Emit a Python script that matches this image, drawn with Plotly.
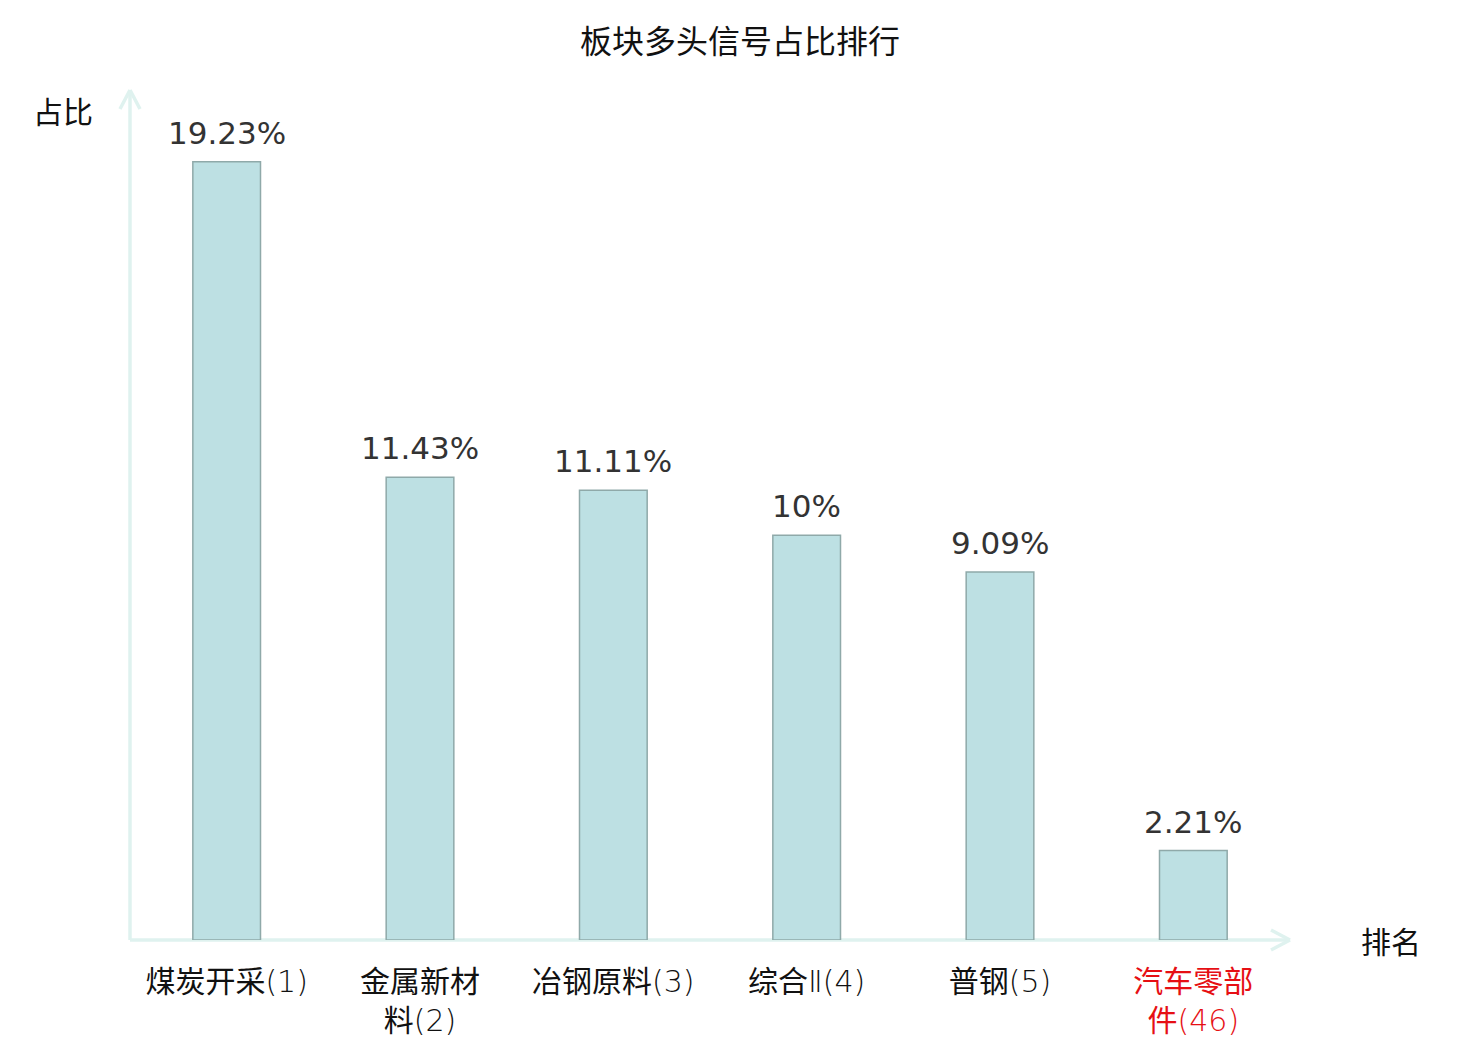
import plotly.graph_objects as go

# sector names, their rank, and share of bullish signals in %
sectors = ["煤炭开采", "金属新材<br>料", "冶钢原料", "综合Ⅱ", "普钢", "汽车零部<br>件"]
ranks = [1, 2, 3, 4, 5, 46]
shares = [19.23, 11.43, 11.11, 10, 9.09, 2.21]
share_labels = ["19.23%", "11.43%", "11.11%", "10%", "9.09%", "2.21%"]
highlight = [False, False, False, False, False, True]

W, H = 1480, 1040
# the page adds an 8px body margin, so shift everything up/left by that much
L, T = 122, 82
PW, PH = 1160, 850
R, B = W - L - PW, H - T - PH

AXIS_COLOR = "#dff2ef"
CJK = "Noto Sans CJK SC"
TICK_FONT = "DejaVu Sans, Noto Sans CJK SC"
LIGHT = "font-family:'DejaVu Sans';font-weight:200"


def light(s):
    return f"<span style=\"{LIGHT}\">{s}</span>"


tick_text = []
for name, rank, hl in zip(sectors, ranks, highlight):
    # latin bits (roman numeral, rank) are drawn in a thin face like the original
    label = name.replace("Ⅱ", light("Ⅱ")) + light(f"({rank})")
    if hl:
        label = f"<span style='color:#e60f14'>{label}</span>"
    tick_text.append(label)
xs = list(range(len(sectors)))

fig = go.Figure(go.Bar(
    x=xs,
    y=shares,
    width=0.35,
    marker=dict(color="#bde0e3", line=dict(color="#8fa9a9", width=1.5)),
    hoverinfo="skip",
))


def px_x(p):
    return p / PW


def px_y(p):
    return p / PH


arrow = dict(type="line", xref="paper", yref="paper",
             line=dict(color=AXIS_COLOR, width=3.5), layer="below")
shapes = [
    # y axis with chevron head
    dict(arrow, x0=0, y0=0, x1=0, y1=1),
    dict(arrow, x0=-px_x(10), y0=1 - px_y(19), x1=0, y1=1),
    dict(arrow, x0=px_x(10), y0=1 - px_y(19), x1=0, y1=1),
    # x axis with chevron head
    dict(arrow, x0=0, y0=0, x1=1, y1=0),
    dict(arrow, x0=1 - px_x(19), y0=px_y(10), x1=1, y1=0),
    dict(arrow, x0=1 - px_x(19), y0=-px_y(10), x1=1, y1=0),
]

# value labels above each bar
annotations = [
    dict(text=lab, x=x, y=v, xref="x", yref="y", showarrow=False,
         xanchor="center", yanchor="bottom", yshift=9,
         font=dict(family="DejaVu Sans", size=31, color="#333333"))
    for x, v, lab in zip(xs, shares, share_labels)
]

annotations += [
    dict(text="占比", xref="paper", yref="paper", x=px_x(63 - 130), y=1 - px_y(110 - 90),
         xanchor="center", yanchor="middle", showarrow=False,
         font=dict(family=CJK, size=30, color="#111111")),
    dict(text="排名", xref="paper", yref="paper", x=px_x(1391 - 130), y=0,
         xanchor="center", yanchor="middle", showarrow=False,
         font=dict(family=CJK, size=30, color="#111111")),
]

fig.update_layout(
    width=W, height=H,
    margin=dict(l=L, r=R, t=T, b=B),
    paper_bgcolor="white",
    plot_bgcolor="white",
    showlegend=False,
    title=dict(text="板块多头信号占比排行", x=(740 - 8) / W, xref="container",
               xanchor="center", y=1 - 34 / H, yanchor="middle",
               font=dict(family=CJK, size=32, color="#111111")),
    xaxis=dict(
        range=[-0.5, 5.5],
        tickmode="array",
        tickvals=xs,
        ticktext=tick_text,
        showgrid=False,
        zeroline=False,
        showline=False,
        ticks="",
        ticklabelstandoff=21,
        automargin=False,
        tickfont=dict(family=TICK_FONT, size=30, color="#111111"),
        fixedrange=True,
    ),
    yaxis=dict(
        range=[0, 21],
        showgrid=False,
        zeroline=False,
        showline=False,
        showticklabels=False,
        automargin=False,
        fixedrange=True,
    ),
    shapes=shapes,
    annotations=annotations,
)

fig.write_html("out.html")
